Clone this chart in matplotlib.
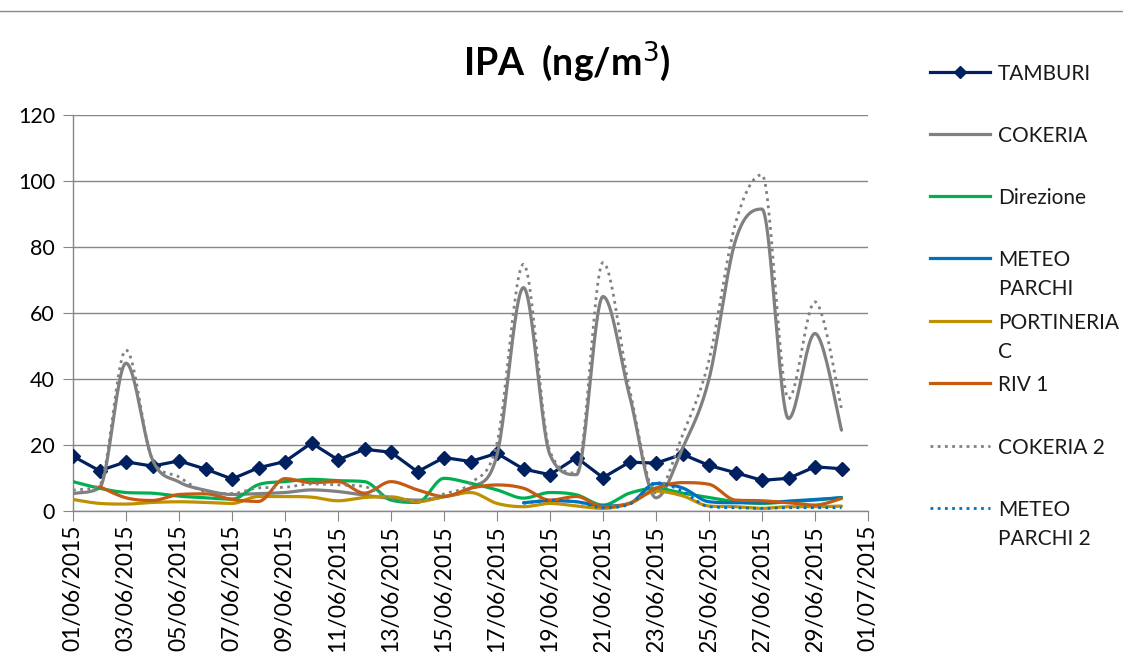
import numpy as np
import pandas as pd
import matplotlib
matplotlib.use("Agg")
import matplotlib.pyplot as plt
import matplotlib.dates as mdates
from matplotlib.lines import Line2D

plt.rcParams['font.family'] = ['Lato', 'DejaVu Sans']

nan = np.nan
dates = pd.date_range('2015-06-01', periods=30, freq='D')

tamburi = [16.6, 12.2, 14.9, 13.6, 15.2, 12.7, 9.7, 13.1, 15.0, 20.6,
           15.5, 18.7, 17.8, 11.9, 16.2, 15.0, 17.5, 12.7, 11.0, 16.2,
           10.1, 14.8, 14.5, 17.2, 13.8, 11.6, 9.3, 9.9, 13.4, 12.8]
cokeria = [5.3, 7.0, 44.8, 15.5, 8.8, 6.3, 5.0, 5.3, 5.6, 6.4,
           5.9, 4.8, 3.8, 3.3, 4.3, 6.9, 17.0, 67.7, 17.0, 11.0,
           65.0, 35.0, 4.0, 19.0, 40.0, 82.0, 91.5, 28.0, 53.8, 24.5]
direzione = [8.9, 6.9, 5.6, 5.4, 4.5, 4.0, 3.6, 8.0, 8.9, 9.6,
             9.2, 8.9, 3.3, 2.6, 9.9, 8.4, 6.4, 3.9, 5.6, 4.9,
             1.8, 5.4, 6.9, 5.4, 4.1, 2.8, 2.3, 2.8, 3.3, 4.1]
meteo_parchi = [nan] * 17 + [2.5, 3.1, 2.8, 1.5, 2.3, 8.3, 7.0, 2.8, 2.5, 2.5, 3.0, 3.5, 4.0]
portineria_c = [3.5, 2.3, 2.1, 2.6, 2.8, 2.6, 2.3, 4.4, 4.4, 4.2,
                3.1, 4.1, 4.3, 2.8, 4.4, 5.6, 2.3, 1.3, 2.3, 1.5,
                0.8, 2.3, 6.0, 4.6, 1.5, 1.3, 0.8, 1.3, 1.3, 1.5]
riv1 = [nan, 7.4, 4.0, 3.2, 5.0, 5.2, 3.5, 2.9, 9.8, 8.6,
        8.9, 5.4, 8.9, 6.4, 4.4, 6.9, 7.9, 6.9, 3.3, 4.4,
        1.3, 2.3, 6.9, 8.6, 8.1, 3.3, 3.1, 2.5, 1.8, 3.8]
cokeria2 = [6.3, 7.8, 48.8, 15.5, 10.3, 5.8, 5.3, 7.0, 7.2, 8.2,
            7.9, 7.4, 3.8, 3.1, 5.2, 8.4, 20.6, 74.8, 18.0, 11.5,
            75.3, 37.0, 5.5, 23.0, 45.7, 87.2, 101.9, 34.0, 63.4, 31.0]
meteo_parchi2 = [nan] * 17 + [2.3, 3.3, 2.8, 1.0, 2.0, 8.6, 6.0, 1.3, 1.0, 0.8, 1.0, 1.0, 1.0]

series_names = ['TAMBURI', 'COKERIA', 'Direzione', 'METEO PARCHI', 'PORTINERIA C',
                'RIV 1', 'COKERIA 2', 'METEO PARCHI 2']
legend_labels = ['TAMBURI', 'COKERIA', 'Direzione', 'METEO\nPARCHI', 'PORTINERIA\nC',
                 'RIV 1', 'COKERIA 2', 'METEO\nPARCHI 2']
series_values = [tamburi, cokeria, direzione, meteo_parchi, portineria_c,
                 riv1, cokeria2, meteo_parchi2]
colors = ['#002060', '#808080', '#00B050', '#0070C0', '#BF9000',
          '#C55A11', '#808080', '#0070C0']
styles = ['-', '-', '-', '-', '-', '-', ':', ':']
smoothed = [False, True, True, True, True, True, True, True]

y_ticks = [0, 20, 40, 60, 80, 100, 120]
x_ticks = pd.date_range('2015-06-01', '2015-07-01', freq='2D')


def smooth_curve(x, y, n=24):
    """Cubic Bezier smoothing through the points (Catmull-Rom tangents,
    flattened at local extrema and limited to avoid overshoot)."""
    x = np.asarray(x, float)
    y = np.asarray(y, float)
    m = len(x)
    if m < 3:
        return x, y
    tx = np.zeros(m)
    ty = np.zeros(m)
    for i in range(m):
        i0 = max(i - 1, 0)
        i1 = min(i + 1, m - 1)
        tx[i] = (x[i1] - x[i0]) / 2.0
        ty[i] = (y[i1] - y[i0]) / 2.0
        if 0 < i < m - 1:
            dl = y[i] - y[i - 1]
            dr = y[i + 1] - y[i]
            if dl * dr <= 0:
                ty[i] = 0.0
            else:
                lim = 3.0 * min(abs(dl), abs(dr))
                ty[i] = np.sign(ty[i]) * min(abs(ty[i]), lim)
    xs, ys = [], []
    for i in range(m - 1):
        c1x = x[i] + tx[i] / 3.0
        c1y = y[i] + ty[i] / 3.0
        c2x = x[i + 1] - tx[i + 1] / 3.0
        c2y = y[i + 1] - ty[i + 1] / 3.0
        t = np.linspace(0, 1, n, endpoint=(i == m - 2))
        a, b, c, d = (1 - t) ** 3, 3 * (1 - t) ** 2 * t, 3 * (1 - t) * t ** 2, t ** 3
        xs.append(a * x[i] + b * c1x + c * c2x + d * x[i + 1])
        ys.append(a * y[i] + b * c1y + c * c2y + d * y[i + 1])
    return np.concatenate(xs), np.concatenate(ys)


fig = plt.figure(figsize=(11.23, 6.52), dpi=100)
ax = fig.add_axes([73 / 1123, 1 - 511 / 652, (868 - 73) / 1123, (511 - 115) / 652])

xnum = mdates.date2num(dates)
lw = 2.3
for k, (name, vals) in enumerate(zip(series_names, series_values)):
    v = np.asarray(vals, float)
    ok = ~np.isnan(v)
    xv, yv = xnum[ok], v[ok]
    if smoothed[k]:
        xs, ys = smooth_curve(xv, yv)
    else:
        xs, ys = xv, yv
    if styles[k] == ':':
        ax.plot(xs, ys, color=colors[k], lw=2.0, linestyle=(0, (1, 1.6)),
                zorder=3 + k, solid_capstyle='butt')
    else:
        ax.plot(xs, ys, color=colors[k], lw=lw, zorder=3 + k,
                solid_capstyle='round')
    if name == 'TAMBURI':
        ax.plot(xv, yv, linestyle='none', marker='D', ms=7.5, color=colors[k],
                zorder=3 + k)

ax.set_xlim(mdates.date2num(pd.Timestamp('2015-06-01')),
            mdates.date2num(pd.Timestamp('2015-07-01')))
ax.set_ylim(0, 120)
ax.set_yticks(y_ticks)
ax.set_xticks(mdates.date2num(x_ticks))
ax.set_xticklabels([d.strftime('%d/%m/%Y') for d in x_ticks], rotation=90,
                   ha='center', va='top', fontsize=16.5)
ax.tick_params(axis='y', labelsize=15.5, length=7, color='#868686', pad=6)
ax.tick_params(axis='x', length=7, color='#868686', pad=3)
ax.grid(axis='y', color='#868686', lw=1.0)
ax.set_axisbelow(True)
for s in ['top', 'right']:
    ax.spines[s].set_visible(False)
for s in ['left', 'bottom']:
    ax.spines[s].set_color('#868686')
    ax.spines[s].set_linewidth(1.0)

# title
fig.text(567 / 1123, 1 - 62 / 652, 'IPA  (ng/m$^3$)', ha='center', va='center',
         fontsize=27, fontweight='bold')

# chart area top border
fig.add_artist(Line2D([0, 1], [1 - 11 / 652, 1 - 11 / 652], color='#898989', lw=1.0))

# legend
leg_y = [72, 134, 196, 258, 321, 383, 446, 508]
for k, lab in enumerate(legend_labels):
    yy = 1 - leg_y[k] / 652
    if styles[k] == ':':
        fig.add_artist(Line2D([930 / 1123, 990 / 1123], [yy, yy], color=colors[k],
                              lw=2.0, linestyle=(0, (1, 1.6))))
    else:
        fig.add_artist(Line2D([930 / 1123, 990 / 1123], [yy, yy], color=colors[k],
                              lw=lw))
    if series_names[k] == 'TAMBURI':
        fig.add_artist(Line2D([960 / 1123], [yy], color=colors[k], marker='D',
                              ms=6.5, linestyle='none'))
    fig.text(998 / 1123, yy + 8 / 652, lab, ha='left', va='top', fontsize=15,
             linespacing=1.55, color='#1a1a1a')

fig.savefig('out.png', dpi=100)
